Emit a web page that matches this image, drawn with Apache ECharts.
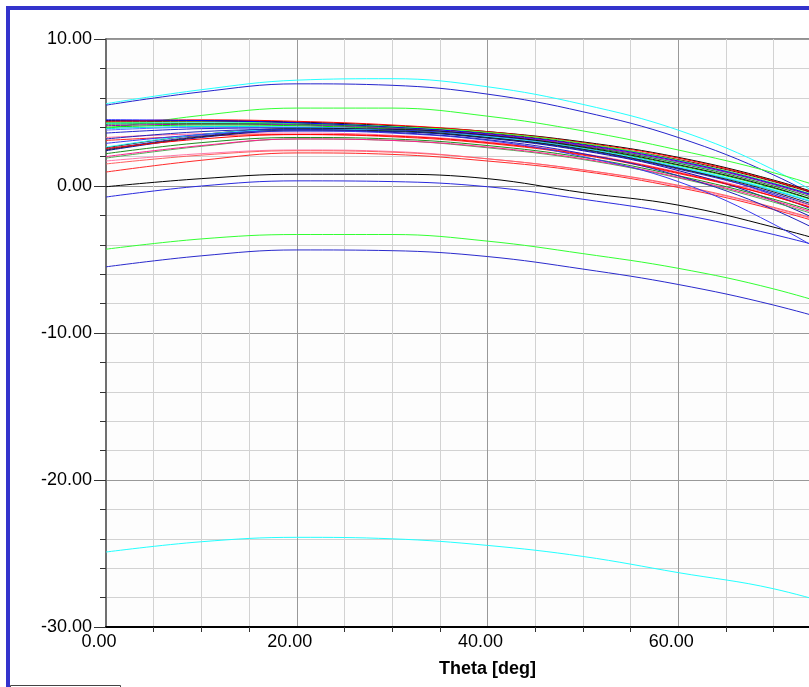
<!DOCTYPE html>
<html>
<head>
<meta charset="utf-8">
<script src="https://cdn.jsdelivr.net/npm/echarts@6/dist/echarts.min.js"></script>
<style>
  html, body { margin: 0; padding: 0; background: #fff; }
  #chart { width: 809px; height: 687px; }
</style>
</head>
<body>
<div id="chart"></div>
<script>
// Theta [deg] sample points
const theta = [0, 10, 20, 30, 40, 50, 60, 70, 80];

// upper curves, above the main bundle
const outerCurves = [
  [5.6, 6.55, 7.2, 7.3, 6.75, 5.55, 3.8, 1.1, -2.6],
  [5.5, 6.4, 6.95, 6.85, 6.25, 5.05, 3.3, 0.75, -2.6],
  [3.9, 4.8, 5.3, 5.3, 4.75, 3.75, 2.45, 0.9, -1.1]
];
const outerColors = ['#22ffff', '#2424cc', '#33ff33'];

// main bundle
const bundleCurves = [
  [4.45, 4.45, 4.35, 4.1, 3.7, 3.0, 1.95, 0.4, -1.6],
  [4.4, 4.5, 4.4, 4.15, 3.7, 2.95, 1.9, 0.35, -1.6],
  [4.35, 4.4, 4.3, 4.0, 3.6, 2.85, 1.8, 0.3, -1.7],
  [4.3, 4.35, 4.25, 4.05, 3.65, 2.9, 1.75, 0.2, -1.8],
  [4.25, 4.3, 4.2, 3.95, 3.5, 2.7, 1.6, 0.1, -1.9],
  [4.5, 4.45, 4.3, 4.0, 3.55, 2.8, 1.7, 0.15, -1.8],
  [4.2, 4.25, 4.2, 3.95, 3.45, 2.7, 1.55, 0.0, -2.0],
  [4.1, 4.2, 4.15, 3.9, 3.5, 2.75, 1.65, 0.1, -1.9],
  [4.0, 4.15, 4.1, 3.85, 3.4, 2.6, 1.4, -0.15, -2.2],
  [3.8, 4.0, 4.0, 3.8, 3.35, 2.55, 1.3, -0.3, -2.4],
  [3.9, 4.05, 4.0, 3.75, 3.3, 2.5, 1.25, -0.3, -2.3],
  [3.6, 3.9, 3.95, 3.75, 3.3, 2.45, 1.15, -0.5, -2.7],
  [3.3, 3.55, 3.6, 3.45, 3.0, 2.2, 0.95, -0.6, -2.6],
  [3.1, 3.4, 3.5, 3.35, 2.9, 2.1, 0.85, -0.7, -2.7],
  [2.6, 3.5, 3.9, 3.85, 3.45, 2.65, 1.45, -0.1, -2.2],
  [2.5, 3.4, 3.85, 3.8, 3.4, 2.55, 1.25, -0.6, -3.2],
  [2.65, 3.5, 3.85, 3.75, 3.35, 2.55, 1.3, -0.25, -2.3],
  [2.4, 3.3, 3.75, 3.7, 3.25, 2.4, 1.05, -1.0, -4.0],
  [2.45, 3.35, 3.8, 3.75, 3.3, 2.5, 1.2, -0.4, -2.6],
  [2.55, 3.2, 3.5, 3.4, 2.95, 2.15, 0.9, -0.7, -2.8],
  [2.2, 2.95, 3.3, 3.2, 2.75, 1.95, 0.7, -0.9, -2.9],
  [1.9, 2.7, 3.2, 3.1, 2.6, 1.8, 0.55, -1.1, -3.1],
  [1.7, 2.2, 2.45, 2.35, 1.85, 1.1, 0.0, -1.5, -3.4],
  [2.0, 2.75, 3.2, 3.1, 2.65, 1.85, 0.6, -1.0, -3.0],
  [0.95, 1.75, 2.25, 2.15, 1.7, 1.0, -0.1, -1.6, -3.5],
  [1.5, 2.1, 2.4, 2.3, 1.85, 1.1, 0.05, -1.45, -3.3],
  [2.9, 3.5, 3.75, 3.6, 3.1, 2.0, 0.3, -2.6, -6.4],
  [3.2, 3.7, 3.85, 3.65, 3.15, 2.2, 0.7, -1.6, -4.8]
];
const bundleColors = [
  '#000000', '#ff0000', '#8b0000', '#33ff33', '#22ffff', '#0000ff', '#228b22',
  '#9900aa', '#00dd00', '#6666ff', '#00e5e5', '#2020cc', '#ff6699', '#ff2020',
  '#111111', '#3030dd', '#33ffff', '#1010aa', '#222222', '#ff0000', '#1e8c1e',
  '#55aa55', '#ff77aa', '#ff1f8f', '#ff2a2a', '#ff6060', '#3a3aee', '#2222bb'
];

// lower curves
const lowerCurves = [
  [-0.05, 0.5, 0.8, 0.8, 0.5, -0.45, -1.3, -2.8, -4.6],
  [-0.75, 0.0, 0.35, 0.3, -0.05, -0.9, -1.9, -3.3, -5.0],
  [-4.3, -3.6, -3.3, -3.3, -3.75, -4.6, -5.6, -7.0, -8.9],
  [-5.5, -4.75, -4.35, -4.4, -4.8, -5.65, -6.7, -8.1, -9.9],
  [-24.9, -24.2, -23.9, -24.0, -24.45, -25.2, -26.3, -27.4, -29.2]
];
const lowerColors = ['#000000', '#2a2add', '#33ff33', '#2a2acc', '#22ffff'];

const yTicks = { min: -30, max: 10, step: 10 };
const xTicks = { min: 0, max: 80, step: 20 };

function makeSeries(curves, colors) {
  return curves.map(function (c, i) {
    return {
      type: 'line',
      data: theta.map(function (t, k) { return [t, c[k]]; }),
      smooth: 0.4,
      showSymbol: false,
      symbol: 'none',
      lineStyle: { width: 1, color: colors[i] },
      emphasis: { disabled: true }
    };
  });
}

const chart = echarts.init(document.getElementById('chart'));
const font = 'Liberation Sans, Arial, sans-serif';

chart.setOption({
  animation: false,
  backgroundColor: '#ffffff',
  grid: {
    // plot runs past the right edge of the window (axis goes to 80)
    left: 106, top: 39, width: 763, height: 588,
    outerBoundsMode: 'none',
    containLabel: false,
    show: true, borderColor: '#222', borderWidth: 1, backgroundColor: '#fdfdfd'
  },
  xAxis: {
    type: 'value',
    min: xTicks.min, max: xTicks.max, interval: xTicks.step,
    name: 'Theta [deg]',
    nameLocation: 'middle',
    nameGap: 33,
    nameTextStyle: { fontFamily: font, fontSize: 18, fontWeight: 'bold', color: '#000' },
    axisLine: { onZero: false, lineStyle: { color: '#000', width: 2 } },
    axisTick: { show: false },
    minorTick: { show: true, splitNumber: 4, length: 5, lineStyle: { color: '#333' } },
    axisLabel: {
      fontFamily: font, fontSize: 18, color: '#000', margin: 6,
      padding: [0, 14, 0, 0],
      formatter: function (v) { return v.toFixed(2); }
    },
    splitLine: { show: true, lineStyle: { color: '#999', width: 1 } },
    minorSplitLine: { show: true, lineStyle: { color: '#d2d2d2', width: 1 } }
  },
  yAxis: {
    type: 'value',
    min: yTicks.min, max: yTicks.max, interval: yTicks.step,
    axisLine: { show: true, onZero: false, lineStyle: { color: '#707070', width: 2 } },
    axisTick: { show: true, length: 12, lineStyle: { color: '#333' } },
    minorTick: { show: true, splitNumber: 5, length: 6, lineStyle: { color: '#333' } },
    axisLabel: {
      fontFamily: font, fontSize: 18, color: '#000', margin: 14,
      formatter: function (v) { return v.toFixed(2); }
    },
    splitLine: { show: true, lineStyle: { color: '#999', width: 1 } },
    minorSplitLine: { show: true, lineStyle: { color: '#d2d2d2', width: 1 } }
  },
  graphic: [
    {
      type: 'rect', silent: true, z: 100,
      shape: { x: 8, y: 8, width: 1200, height: 1200 },
      style: { fill: 'none', stroke: '#3333cc', lineWidth: 4 }
    },
    {
      type: 'rect', silent: true, z: 100,
      shape: { x: 10.5, y: 685.5, width: 110, height: 20 },
      style: { fill: 'none', stroke: '#444', lineWidth: 1 }
    }
  ],
  series: []
    .concat(makeSeries(lowerCurves, lowerColors))
    .concat(makeSeries(outerCurves, outerColors))
    .concat(makeSeries(bundleCurves, bundleColors))
});
</script>
</body>
</html>
